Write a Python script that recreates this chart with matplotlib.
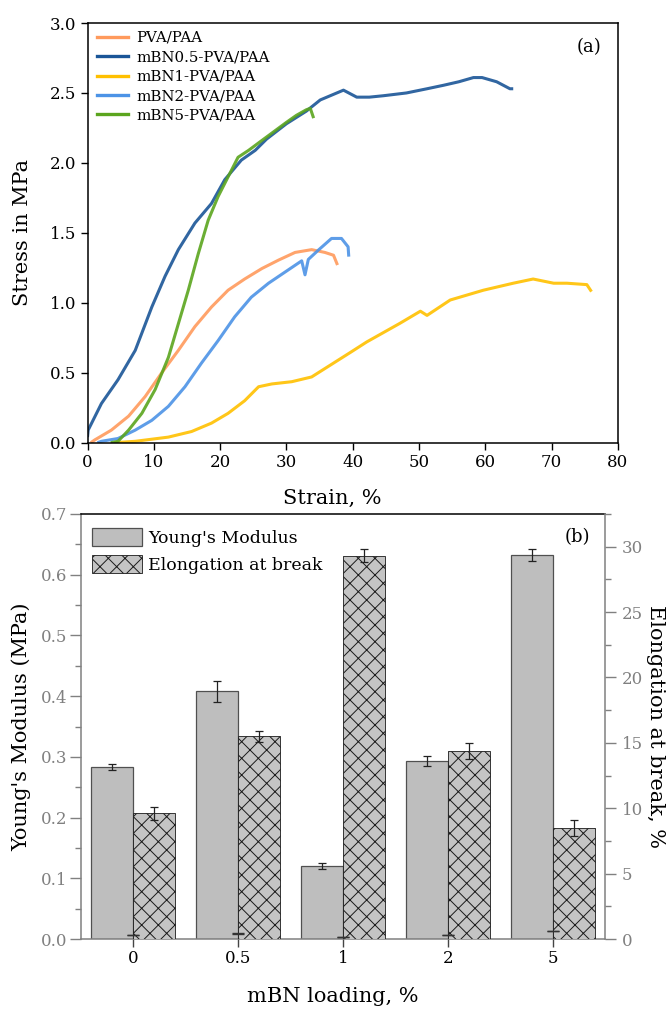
import matplotlib
matplotlib.use('Agg')
import matplotlib.pyplot as plt
from matplotlib.lines import Line2D
from matplotlib.patches import Patch
import numpy as np

plt.rcParams['font.family'] = ['DejaVu Serif']
plt.rcParams['hatch.linewidth'] = 0.7

# ---------------- (a) stress-strain data ----------------
pva_strain = [0.5, 1.1, 3.6, 6.2, 8.7, 11.2, 13.7, 16.2, 18.7, 21.2, 23.7, 26.3,
              28.8, 31.3, 33.8, 35.8, 37.1, 37.7]
pva_stress = [0.0, 0.02, 0.09, 0.19, 0.33, 0.50, 0.66, 0.83, 0.97, 1.09, 1.17, 1.245,
              1.305, 1.36, 1.38, 1.36, 1.34, 1.27]

mbn05_strain = [0.0, 0.1, 2.1, 4.6, 7.2, 9.7, 11.7, 13.7, 16.2, 18.7, 20.7, 23.2, 25.3,
                27.0, 30.0, 33.0, 35.1, 38.6, 40.6, 42.5, 44.6, 48.1, 51.2, 53.7, 56.0,
                58.2, 59.5, 61.7, 63.7, 64.2]
mbn05_stress = [0.04, 0.09, 0.28, 0.45, 0.66, 0.97, 1.19, 1.38, 1.57, 1.71, 1.88, 2.02, 2.09,
                2.17, 2.28, 2.37, 2.45, 2.52, 2.47, 2.47, 2.48, 2.50, 2.53, 2.555, 2.58,
                2.61, 2.61, 2.58, 2.53, 2.53]

mbn1_strain = [4.0, 7.2, 12.2, 15.7, 18.7, 21.2, 23.7, 25.8, 27.8, 30.8, 33.8, 36.8, 39.8,
               42.1, 47.1, 50.2, 51.2, 54.7, 59.7, 64.2, 67.2, 70.3, 72.3, 75.3, 76.0]
mbn1_stress = [0.0, 0.01, 0.04, 0.08, 0.14, 0.21, 0.30, 0.40, 0.42, 0.436, 0.47, 0.56, 0.65,
               0.72, 0.853, 0.94, 0.91, 1.02, 1.09, 1.14, 1.17, 1.14, 1.14, 1.13, 1.08]

mbn2_strain = [1.5, 2.1, 4.6, 7.2, 9.7, 12.2, 14.7, 17.2, 19.7, 22.2, 24.7, 27.3, 29.8,
               32.3, 32.8, 33.3, 34.8, 36.8, 38.3, 39.3, 39.4]
mbn2_stress = [0.0, 0.01, 0.03, 0.09, 0.16, 0.26, 0.40, 0.57, 0.73, 0.90, 1.04, 1.14, 1.22,
               1.30, 1.20, 1.31, 1.376, 1.46, 1.46, 1.40, 1.33]

mbn5_strain = [3.5, 4.6, 6.2, 8.2, 10.2, 12.2, 13.7, 15.2, 16.7, 18.2, 19.7, 21.2, 22.7,
               24.3, 26.0, 28.0, 30.0, 31.5, 33.0, 33.6, 34.1]
mbn5_stress = [0.0, 0.01, 0.09, 0.21, 0.38, 0.61, 0.85, 1.09, 1.35, 1.59, 1.76, 1.90, 2.04,
               2.09, 2.15, 2.22, 2.29, 2.34, 2.38, 2.39, 2.32]

series_labels = ['PVA/PAA', 'mBN0.5-PVA/PAA', 'mBN1-PVA/PAA', 'mBN2-PVA/PAA', 'mBN5-PVA/PAA']
series_colors = ['#FF9A5C', '#1A5597', '#FFC000', '#4C93E6', '#5BA51E']

# ---------------- (b) bar data ----------------
loadings = ['0', '0.5', '1', '2', '5']
youngs = [0.283, 0.408, 0.120, 0.293, 0.633]
youngs_err = [0.005, 0.017, 0.005, 0.008, 0.010]
elong = [9.6, 15.5, 29.3, 14.4, 8.5]
elong_err = [0.5, 0.4, 0.5, 0.6, 0.6]

W, H = 672, 1009
fig = plt.figure(figsize=(W / 100, H / 100), dpi=100)

# ---------------- panel (a) ----------------
ax = fig.add_axes([87.5 / W, 1 - 442.7 / H, 530.5 / W, 419.7 / H])
curves = [(pva_strain, pva_stress), (mbn05_strain, mbn05_stress), (mbn1_strain, mbn1_stress),
          (mbn2_strain, mbn2_stress), (mbn5_strain, mbn5_stress)]
for (sx, sy), c in zip(curves, series_colors):
    ax.plot(sx, sy, color=c, lw=2.2, alpha=0.9, solid_capstyle='butt')
ax.set_xlim(0, 80)
ax.set_ylim(0, 3.0)
ax.set_xticks(np.arange(0, 81, 10))
ax.set_yticks(np.arange(0, 3.01, 0.5))
ax.set_yticklabels([f'{v:.1f}' for v in np.arange(0, 3.01, 0.5)])
ax.tick_params(direction='out', length=5, width=1, labelsize=12, pad=3, colors='black')
for s in ax.spines.values():
    s.set_linewidth(1.1)
    s.set_color('black')
ax.set_xlabel('Strain, %', fontsize=15)
ax.xaxis.label.set_va('center')
ax.xaxis.set_label_coords(0.461, (442.7 - 498) / 419.7)
ax.set_ylabel('Stress in MPa', fontsize=15)
ax.yaxis.label.set_va('center')
ax.yaxis.set_label_coords((23 - 87.5) / 530.5, 0.5)
handles = [Line2D([], [], color=c, lw=2.4) for c in series_colors]
ax.legend(handles, series_labels, loc='upper left', bbox_to_anchor=(0.0173, 0.981),
          frameon=False, fontsize=10.8, handlelength=2.1, handletextpad=0.53,
          labelspacing=0.36, borderpad=0, borderaxespad=0)
ax.text(0.945, 0.943, '(a)', transform=ax.transAxes, fontsize=13, ha='center', va='center')

# ---------------- panel (b) ----------------
grey = '#808080'
bx = fig.add_axes([81 / W, 1 - 939 / H, 524 / W, 425 / H])
bx2 = bx.twinx()
x = np.arange(len(loadings))
w = 0.4
bx.bar(x - w / 2, youngs, w, color='#bebebe', edgecolor='#505050', linewidth=0.9, zorder=2)
bx.errorbar(x - w / 2, youngs, yerr=youngs_err, fmt='none', ecolor='#222222',
            elinewidth=0.9, capsize=3, capthick=0.9, zorder=3)
bx2.bar(x + w / 2, elong, w, color='#c4c4c4', edgecolor='#1a1a1a', hatch='xx',
        linewidth=0.6, zorder=2)
bx2.errorbar(x + w / 2, elong, yerr=elong_err, fmt='none', ecolor='#222222',
             elinewidth=0.9, capsize=3, capthick=0.9, zorder=3)
# Young's modulus error bars also drawn against the right axis (as in the original)
bx2.errorbar(x, youngs, yerr=youngs_err, fmt='none', ecolor='#333333',
             elinewidth=0.9, capsize=4.5, capthick=1.0, zorder=3)

bx.set_xlim(-0.5, 4.5)
bx.set_ylim(0, 0.7)
bx2.set_ylim(0, 32.5)
bx.set_xticks(x)
bx.set_xticklabels(loadings)
bx.set_yticks(np.arange(0, 0.701, 0.1))
bx.set_yticklabels([f'{v:.1f}' for v in np.arange(0, 0.701, 0.1)])
bx.set_yticks(np.arange(0.05, 0.7, 0.1), minor=True)
bx2.set_yticks(np.arange(0, 31, 5))
bx2.set_yticks(np.arange(2.5, 32.6, 5), minor=True)
bx.tick_params(axis='x', direction='inout', length=12, width=1, color='#444444',
               labelsize=12, labelcolor='black', pad=2)
bx.tick_params(axis='y', which='major', direction='out', length=8, width=1, color=grey,
               labelsize=12, labelcolor=grey, pad=2)
bx.tick_params(axis='y', which='minor', direction='out', length=4, width=1, color=grey)
bx2.tick_params(axis='y', which='major', direction='out', length=8, width=1, color=grey,
                labelsize=12, labelcolor=grey, pad=4)
bx2.tick_params(axis='y', which='minor', direction='out', length=4, width=1, color=grey)
for name, s in bx.spines.items():
    s.set_linewidth(1.1)
    s.set_color(grey)
bx.spines['top'].set_color('black')
bx.spines['right'].set_visible(False)
for name, s in bx2.spines.items():
    s.set_visible(name == 'right')
bx2.spines['right'].set_color(grey)
bx2.spines['right'].set_linewidth(1.1)

bx.set_xlabel('mBN loading, %', fontsize=15)
bx.xaxis.label.set_va('center')
bx.xaxis.set_label_coords(0.481, (939 - 996) / 425)
bx.set_ylabel("Young's Modulus (MPa)", fontsize=15)
bx.yaxis.label.set_va('center')
bx.yaxis.set_label_coords((21 - 81) / 524, 0.5)
bx2.set_ylabel('Elongation at break, %', fontsize=15, rotation=270)
bx2.yaxis.label.set_va('center')
bx2.yaxis.set_label_coords((655 - 81) / 524, 0.5)

leg_handles = [Patch(facecolor='#bebebe', edgecolor='#505050', linewidth=0.9),
               Patch(facecolor='#c4c4c4', edgecolor='#1a1a1a', hatch='xx', linewidth=0.6)]
bx2.legend(leg_handles, ["Young's Modulus", 'Elongation at break'], loc='upper left',
           bbox_to_anchor=((91.6 - 81) / 524, 1 - (528 - 514) / 425), frameon=False,
           fontsize=12.5, handlelength=2.9, handleheight=1.2, handletextpad=0.35,
           labelspacing=0.5, borderpad=0, borderaxespad=0)
bx2.text(0.948, 0.946, '(b)', transform=bx2.transAxes, fontsize=13, ha='center', va='center')

fig.savefig('out.png', dpi=100)
